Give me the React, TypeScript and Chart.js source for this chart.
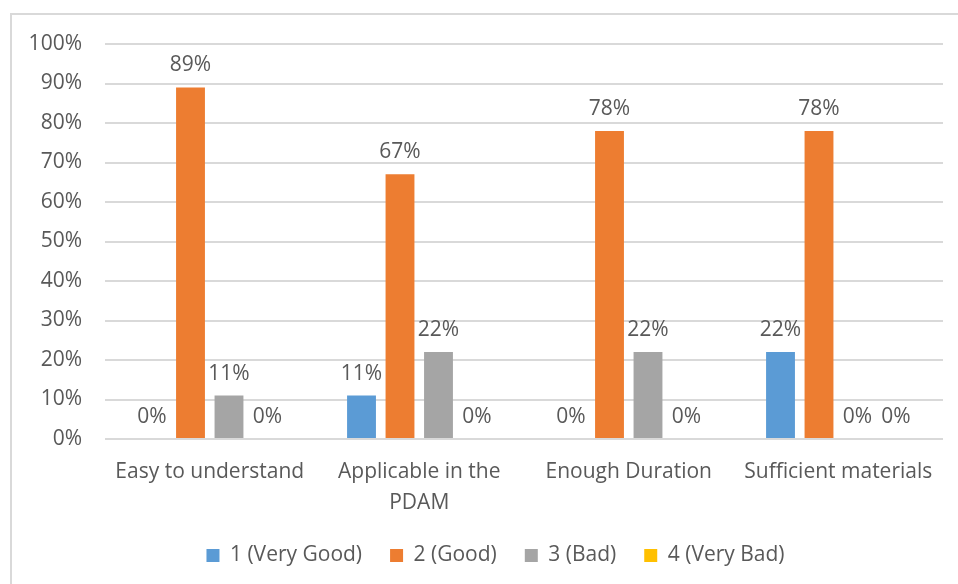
import React, { useEffect, useRef } from 'react';
import { Chart, registerables } from 'chart.js';

Chart.register(...registerables);

// Survey categories and answer shares (percent)
const categories: (string | string[])[] = [
  'Easy to understand',
  ['Applicable in the', 'PDAM'],
  'Enough Duration',
  'Sufficient materials',
];
const seriesNames = ['1 (Very Good)', '2 (Good)', '3 (Bad)', '4 (Very Bad)'];
const veryGood = [0, 11, 0, 22];
const good = [89, 67, 78, 78];
const bad = [11, 22, 22, 0];
const veryBad = [0, 0, 0, 0];
const seriesColors = ['#5b9bd5', '#ed7d31', '#a5a5a5', '#ffc000'];

const yMin = 0;
const yMax = 100;
const yStep = 10;

const TEXT_COLOR = '#595959';
const GRID_COLOR = '#d9d9d9';
const FONT_FAMILY = '"Open Sans", "Noto Sans", sans-serif';
const FONT_SIZE = 21;

// Thin frame along the top and left edges of the chart
const framePlugin = {
  id: 'frame',
  beforeDraw(chart: Chart) {
    const ctx = chart.ctx;
    ctx.save();
    ctx.fillStyle = '#ffffff';
    ctx.fillRect(0, 0, chart.width, chart.height);
    ctx.strokeStyle = GRID_COLOR;
    ctx.lineWidth = 2;
    ctx.beginPath();
    ctx.moveTo(11, chart.height);
    ctx.lineTo(11, 14);
    ctx.lineTo(chart.width, 14);
    ctx.stroke();
    ctx.restore();
  },
};

// Centre the legend row under the plot area rather than the whole canvas
const legendShiftPlugin = {
  id: 'legendShift',
  afterLayout(chart: any) {
    const legend = chart.legend;
    if (!legend) return;
    legend.left += 24;
    legend.right += 24;
  },
};

// Percentage labels above every bar
const valueLabelPlugin = {
  id: 'valueLabels',
  afterDatasetsDraw(chart: Chart) {
    const ctx = chart.ctx;
    ctx.save();
    ctx.font = `${FONT_SIZE}px ${FONT_FAMILY}`;
    ctx.fillStyle = TEXT_COLOR;
    ctx.textAlign = 'center';
    ctx.textBaseline = 'middle';
    chart.data.datasets.forEach((ds, i) => {
      const meta = chart.getDatasetMeta(i);
      meta.data.forEach((bar: any, j: number) => {
        const v = ds.data[j] as number;
        ctx.fillText(`${v}%`, bar.x, bar.y - 22);
      });
    });
    ctx.restore();
  },
};

export default function App() {
  const canvasRef = useRef<HTMLCanvasElement | null>(null);

  useEffect(() => {
    if (!canvasRef.current) return;
    const seriesValues = [veryGood, good, bad, veryBad];
    const chart = new Chart(canvasRef.current, {
      type: 'bar',
      data: {
        labels: categories,
        datasets: seriesNames.map((name, i) => ({
          label: name,
          data: seriesValues[i],
          backgroundColor: seriesColors[i],
          borderWidth: 0,
          categoryPercentage: 0.735,
          barPercentage: 0.75,
        })),
      },
      options: {
        responsive: false,
        animation: false,
        devicePixelRatio: 1,
        layout: { padding: { top: 44, right: 15, bottom: 8, left: 0 } },
        font: { family: FONT_FAMILY, size: FONT_SIZE },
        color: TEXT_COLOR,
        scales: {
          x: {
            grid: { display: false },
            border: { display: false },
            ticks: {
              color: TEXT_COLOR,
              font: { family: FONT_FAMILY, size: FONT_SIZE, lineHeight: 1.45 },
              padding: 10,
              maxRotation: 0,
              autoSkip: false,
            },
            afterFit(scale: any) {
              scale.height = 78;
            },
          },
          y: {
            min: yMin,
            max: yMax,
            grid: { color: GRID_COLOR, lineWidth: 2, drawTicks: false },
            border: { display: false },
            ticks: {
              stepSize: yStep,
              color: TEXT_COLOR,
              font: { family: FONT_FAMILY, size: FONT_SIZE },
              padding: 23,
              callback: (v: any) => `${v}%`,
            },
            afterFit(scale: any) {
              scale.width = 105;
            },
          },
        },
        plugins: {
          legend: {
            position: 'bottom',
            labels: {
              color: TEXT_COLOR,
              font: { family: FONT_FAMILY, size: FONT_SIZE },
              boxWidth: 13,
              boxHeight: 13,
              padding: 28,
            },
          },
          tooltip: { enabled: false },
        },
      },
      plugins: [framePlugin, legendShiftPlugin, valueLabelPlugin],
    });
    return () => chart.destroy();
  }, []);

  return (
    <div
      style={{
        position: 'fixed',
        left: 0,
        top: 0,
        width: 958,
        height: 584,
        overflow: 'hidden',
        background: '#ffffff',
      }}
    >
      <canvas ref={canvasRef} width={958} height={584} style={{ display: 'block' }} />
    </div>
  );
}
